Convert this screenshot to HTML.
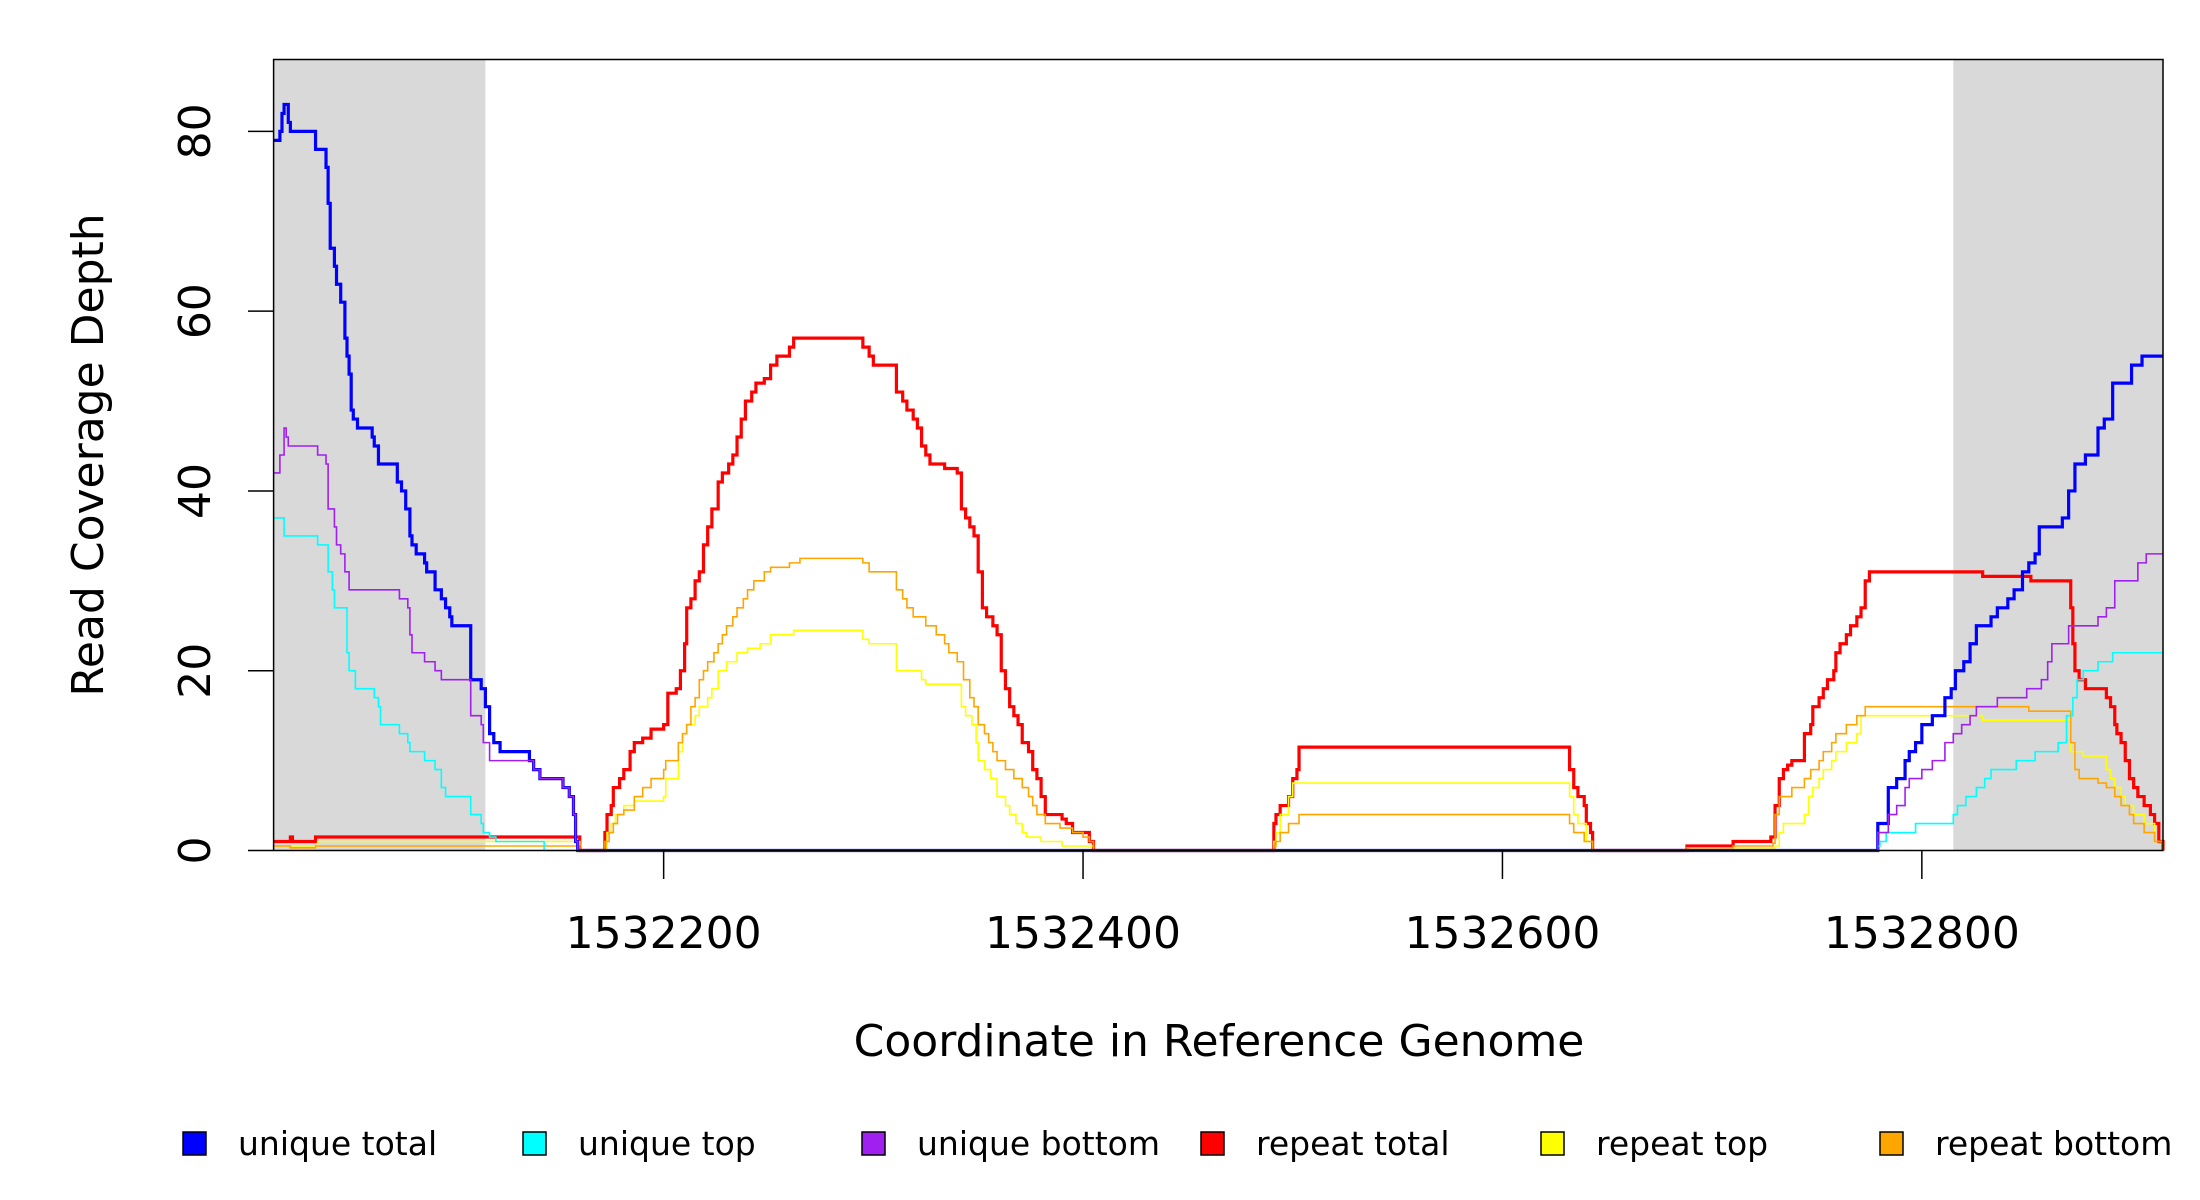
<!DOCTYPE html>
<html><head><meta charset="utf-8"><style>
html,body{margin:0;padding:0;background:#fff;}
svg{display:block;font-family:"DejaVu Sans","Liberation Sans",sans-serif;}
</style></head><body>
<svg id="chart" width="2200" height="1200" viewBox="0 0 2200 1200" xmlns="http://www.w3.org/2000/svg"></svg>
<script>
const xStart = 1532014;
const xEnd = 1532915;
const yMax = 88;
const xTicks = [1532200, 1532400, 1532600, 1532800];
const yTicks = [0, 20, 40, 60, 80];
const shadeRegions = [[0, 101], [801, 901]];
// series: [offset from xStart (bp), depth] step-after
const uniqueTotal = [[0,79],[3,80],[4,82],[5,83],[7,81],[8,80],[20,78],[25,76],[26,72],[27,67],[29,65],[30,63],[32,61],[34,57],[35,55],[36,53],[37,49],[38,48],[40,47],[47,46],[48,45],[50,43],[59,41],[61,40],[63,38],[65,35],[66,34],[68,33],[72,32],[73,31],[77,29],[80,28],[82,27],[84,26],[85,25],[94,19],[99,18],[101,16],[103,13],[105,12],[108,11],[122,10],[124,9],[127,8],[138,7],[141,6],[143,4],[144,1],[145,0],[765,3],[770,7],[774,8],[778,10],[780,11],[783,12],[786,14],[791,15],[797,17],[800,18],[802,20],[806,21],[809,23],[812,25],[819,26],[822,27],[827,28],[830,29],[834,31],[837,32],[840,33],[842,36],[853,37],[856,40],[859,43],[864,44],[870,47],[873,48],[877,52],[886,54],[891,55],[901,55]];
const uniqueTop = [[0,37],[5,35],[21,34],[26,31],[28,29],[29,27],[35,22],[36,20],[39,18],[48,17],[50,16],[51,14],[60,13],[64,12],[65,11],[72,10],[77,9],[80,7],[82,6],[94,4],[99,3],[100,2],[103,1.5],[106,1],[129,0],[765,0.5],[766,1],[769,2],[783,3],[801,4],[803,5],[807,6],[812,7],[816,8],[819,9],[831,10],[840,11],[851,12],[855,15],[858,17],[860,19],[863,20],[870,21],[877,22],[901,22]];
const uniqueBottom = [[0,42],[3,44],[5,47],[6,46],[7,45],[21,44],[25,43],[26,38],[29,36],[30,34],[32,33],[34,31],[36,29],[60,28],[64,27],[65,24],[66,22],[72,21],[77,20],[80,19],[94,15],[99,14],[100,12],[103,10],[124,9],[127,8],[138,7],[141,6],[143,4],[144,1],[145,0],[765,2],[770,4],[774,5],[778,7],[780,8],[786,9],[791,10],[797,12],[801,13],[805,14],[809,15],[812,16],[822,17],[836,18],[843,19],[846,21],[848,23],[856,25],[870,26],[874,27],[878,30],[889,32],[893,33],[901,33]];
const repeatTotal = [[0,1],[8,1.5],[9,1],[20,1.5],[146,0],[158,2],[159,4],[161,5],[162,7],[165,8],[167,9],[170,11],[172,12],[176,12.5],[180,13.5],[186,14],[188,17.5],[192,18],[194,20],[196,23],[197,27],[199,28],[201,30],[203,31],[205,34],[207,36],[209,38],[212,41],[214,42],[217,43],[219,44],[221,46],[223,48],[225,50],[228,51],[230,52],[234,52.5],[237,54],[240,55],[246,56],[248,57],[281,56],[284,55],[286,54],[297,51],[300,50],[302,49],[305,48],[307,47],[309,45],[311,44],[313,43],[320,42.5],[326,42],[328,38],[330,37],[332,36],[334,35],[336,31],[338,27],[340,26],[343,25],[345,24],[347,20],[349,18],[351,16],[353,15],[355,14],[357,12],[360,11],[362,9],[364,8],[366,6],[368,4],[376,3.5],[378,3],[381,2],[389,1],[391,0],[477,3],[478,4],[480,5],[484,6],[486,8],[488,9],[489,11.5],[618,9],[620,7],[622,6],[625,5],[626,3],[628,2],[629,0],[674,0.5],[696,1],[714,1.5],[716,5],[718,8],[720,9],[722,9.5],[724,10],[730,13],[733,14],[734,16],[737,17],[739,18],[741,19],[744,20],[745,22],[747,23],[750,24],[752,25],[755,26],[757,27],[759,30],[761,31],[815,30.5],[838,30],[857,27],[858,23],[859,20],[861,19],[864,18],[874,17],[876,16],[878,14],[879,13],[881,12],[883,10],[885,8],[887,7],[889,6],[892,5],[895,4],[897,3],[899,1],[901,0]];
const repeatTop = [[0,0.5],[21,1],[146,0],[159,2],[161,3],[163,4],[167,5],[172,5.5],[186,6],[187,8],[193,11],[195,13],[197,14],[201,15],[203,16],[207,17],[209,18],[212,20],[216,21],[221,22],[226,22.5],[232,23],[237,24],[248,24.5],[281,23.5],[284,23],[297,20],[309,19],[311,18.5],[328,16],[330,15],[333,14],[335,12],[336,10],[339,9],[342,8],[345,6],[349,5],[351,4],[354,3],[357,2],[359,1.5],[366,1],[376,0.5],[391,0],[477,1],[478,2],[480,4],[484,6],[486,7.5],[618,6],[620,4],[622,3],[626,1],[629,0],[696,0.3],[716,0.5],[718,2],[720,3],[730,4],[732,6],[734,7],[737,8],[739,9],[743,10],[745,11],[750,12],[755,13],[757,15],[815,14.5],[857,11],[863,10.5],[874,9],[876,8],[878,7],[881,6],[883,5],[887,4],[892,3],[897,1],[901,0]];
const repeatBottom = [[0,0.5],[8,0.3],[20,0.5],[146,0],[158,1],[160,2],[162,3],[164,4],[167,4.5],[172,6],[176,7],[180,8],[186,9],[187,10],[193,12],[195,13],[197,14],[199,16],[201,17],[203,19],[205,20],[207,21],[210,22],[212,23],[214,24],[216,25],[219,26],[221,27],[224,28],[226,29],[229,30],[234,31],[237,31.5],[246,32],[251,32.5],[281,32],[284,31],[297,29],[300,28],[302,27],[305,26],[311,25],[316,24],[320,23],[322,22],[326,21],[329,19],[332,17],[334,16],[336,14],[339,13],[341,12],[343,11],[345,10],[349,9],[353,8],[357,7],[360,6],[362,5],[364,4],[368,3],[375,2.5],[381,2],[386,1.5],[389,1],[391,0],[477,0.5],[478,1],[480,2],[484,3],[489,4],[618,3],[620,2],[625,1],[629,0],[674,0.3],[696,0.5],[715,0.8],[716,4],[718,6],[722,6],[724,7],[730,8],[733,9],[737,10],[739,11],[743,12],[745,13],[750,14],[755,15],[759,16],[837,15.5],[857,12],[859,9],[861,8],[870,7.5],[874,7],[878,6],[881,5],[885,4],[887,3],[892,2],[897,1],[901,0]];
const legendLabels = ["unique total","unique top","unique bottom","repeat total","repeat top","repeat bottom"];

const NS = "http://www.w3.org/2000/svg";
const svg = document.getElementById("chart");
const L = 273.6, R = 2163, T = 59.5, B = 850.5;
function sx(bp){ return L + (bp - xStart) / (xEnd - xStart) * (R - L); }
function sy(v){ return B - v / yMax * (B - T); }
function mk(tag, attrs){ const e = document.createElementNS(NS, tag); for (const k in attrs) e.setAttribute(k, attrs[k]); svg.appendChild(e); return e; }

shadeRegions.forEach((r, i) => {
  const e = mk("rect", {x: sx(xStart + r[0]), y: T, width: sx(xStart + r[1]) - sx(xStart + r[0]), height: B - T, fill: "#d9d9d9"});
  
  
});

const series = [
  {d: repeatTotal, c: "#ff0000", w: 3.2, n: "repeat-total-line"},
  {d: repeatTop, c: "#ffff00", w: 1.6, n: "repeat-top-line"},
  {d: repeatBottom, c: "#ffa500", w: 1.6, n: "repeat-bottom-line"},
  {d: uniqueTotal, c: "#0000ff", w: 3.2, n: "unique-total-line"},
  {d: uniqueTop, c: "#00ffff", w: 1.6, n: "unique-top-line"},
  {d: uniqueBottom, c: "#a020f0", w: 1.6, n: "unique-bottom-line"}
];
series.forEach(s => {
  let p = "";
  s.d.forEach((pt, i) => {
    const x = sx(xStart + pt[0]), y = sy(pt[1]);
    if (i === 0) p += "M" + x + " " + y;
    else p += " H" + x + " V" + y;
  });
  p += " H" + R;
  const e = mk("path", {d: p, fill: "none", stroke: s.c, "stroke-width": s.w});
  
  
});

const box = mk("rect", {x: L, y: T, width: R - L, height: B - T, fill: "none", stroke: "#000", "stroke-width": 1.5});



yTicks.forEach(v => {
  const y = sy(v);
  const t = mk("line", {x1: 248, x2: L, y1: y, y2: y, stroke: "#000", "stroke-width": 1.5});
  
  
  const lb = mk("text", {x: 0, y: 0, transform: "translate(210," + y + ") rotate(-90)", "text-anchor": "middle", "font-size": 44, fill: "#000"});
  lb.textContent = v;
  
  
});
xTicks.forEach(v => {
  const x = sx(v);
  const t = mk("line", {x1: x, x2: x, y1: B, y2: 879, stroke: "#000", "stroke-width": 1.5});
  
  
  const lb = mk("text", {x: x, y: 948, "text-anchor": "middle", "font-size": 44, fill: "#000"});
  lb.textContent = v;
  
  
});

const xt = mk("text", {x: 1219, y: 1056, "text-anchor": "middle", "font-size": 44, fill: "#000"});
xt.textContent = "Coordinate in Reference Genome";


const yt = mk("text", {x: 0, y: 0, transform: "translate(103,455) rotate(-90)", "text-anchor": "middle", "font-size": 44, fill: "#000"});
yt.textContent = "Read Coverage Depth";



const legendColors = ["#0000ff","#00ffff","#a020f0","#ff0000","#ffff00","#ffa500"];
const legendBoxX = [183, 523, 862, 1201, 1541, 1880];
legendLabels.forEach((lab, i) => {
  const r = mk("rect", {x: legendBoxX[i], y: 1132, width: 23, height: 23, fill: legendColors[i], stroke: "#000", "stroke-width": 1.5});
  
  
  const t = mk("text", {x: legendBoxX[i] + 55, y: 1155, "font-size": 33, fill: "#000"});
  t.textContent = lab;
  
  
});
</script>
</body></html>
